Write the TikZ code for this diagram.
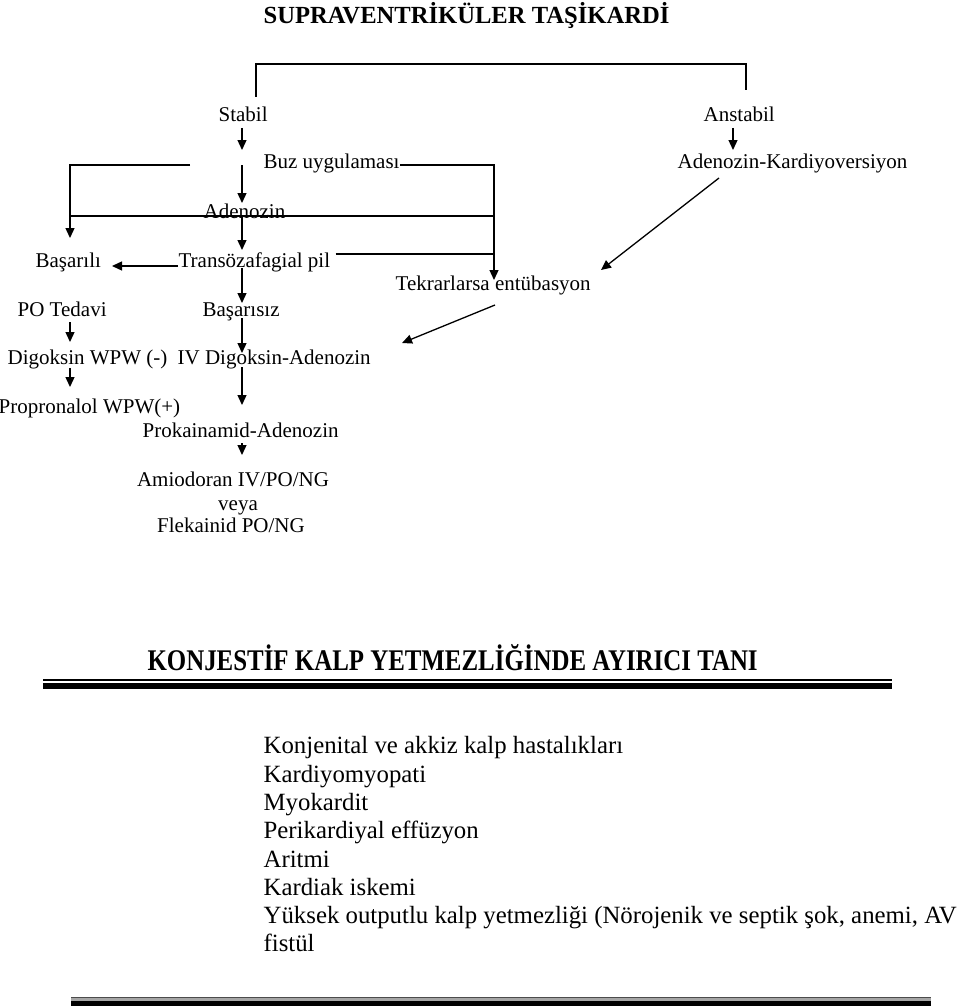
\documentclass[tikz,border=0pt]{standalone}
\usepackage{fontspec}
\setmainfont{Liberation Serif}
\usetikzlibrary{arrows.meta}
\newcommand{\kucuk}{\fontsize{10.5pt}{12pt}\selectfont}
\newcommand{\liste}{\fontsize{12.4pt}{14.15pt}\selectfont}

\begin{document}
\begin{tikzpicture}
    [x=0.5pt,y=-0.5pt,line width=0.65pt,
     yazi/.style={font=\kucuk,inner sep=0pt,anchor=base west},
     ok/.style={-{Triangle[length=5pt,width=4.5pt]}}]
\useasboundingbox (0,0) rectangle (960,1006);
%basliklar
\node[font=\fontsize{12.3pt}{14pt}\selectfont\bfseries,inner sep=0pt,anchor=base west] (baslik) at (263,24) {SUPRAVENTRİKÜLER TAŞİKARDİ};
\node[font=\fontsize{15pt}{17pt}\selectfont\bfseries,inner sep=0pt,anchor=base west,xscale=0.83] (konj) at (147,670) {KONJESTİF KALP YETMEZLİĞİNDE AYIRICI TANI};

%akis semasi yazilari
\node[yazi] (stabil) at (218,121) {Stabil};
\node[yazi] (anstabil) at (703,121) {Anstabil};
\node[yazi] (buz) at (263,169) {Buz uygulaması};
\node[yazi] (adkardio) at (677,169) {Adenozin-Kardiyoversiyon};
\node[yazi] (adenozin) at (203,218) {Adenozin};
\node[yazi] (basarili) at (35,267) {Başarılı};
\node[yazi] (transoz) at (178,267) {Transözafagial pil};
\node[yazi] (tekrar) at (395,290) {Tekrarlarsa entübasyon};
\node[yazi] (potedavi) at (17,316) {PO Tedavi};
\node[yazi] (basarisiz) at (202,316) {Başarısız};
\node[yazi] (digwpw) at (7,364) {Digoksin WPW (-)};
\node[yazi] (ivdig) at (177,364) {IV Digoksin-Adenozin};
\node[yazi] (propr) at (-2,413) {Propronalol WPW(+)};
\node[yazi] (prokain) at (142,437) {Prokainamid-Adenozin};
\node[yazi,anchor=base] (amio) at (233,486) {Amiodoran IV/PO/NG};
\node[yazi,anchor=base] (veya) at (238,510) {veya};
\node[yazi,anchor=base] (flek) at (231,532) {Flekainid PO/NG};

%baglanti noktalari
\coordinate (k0) at (256,97);
\coordinate (k2) at (746,64);
\coordinate (k3) at (746,90);
\coordinate (n1) at (733,128);
\coordinate (n2) at (733,150);
\coordinate (s1) at (242,128);
\coordinate (s2) at (242,150);
\coordinate (s3) at (242,165);
\coordinate (s4) at (242,203);
\coordinate (s5) at (242,216);
\coordinate (s6) at (242,250);
\coordinate (s7) at (242,268);
\coordinate (s8) at (242,303);
\coordinate (s9) at (242,318);
\coordinate (s10) at (242,353);
\coordinate (s11) at (242,367);
\coordinate (s12) at (242,405);
\coordinate (s13) at (242,443);
\coordinate (s14) at (242,455);
\coordinate (l1) at (190,165);
\coordinate (l2) at (70,238);
\coordinate (l3) at (70,322);
\coordinate (l4) at (70,342);
\coordinate (l5) at (70,368);
\coordinate (l6) at (70,387);
\coordinate (r1) at (494,280);
\coordinate (a1) at (70,216);
\coordinate (a2) at (494,216);
\coordinate (t1) at (494,254);
\coordinate (b1) at (112,266);
\coordinate (d1) at (719,178);
\coordinate (d2) at (601,270);
\coordinate (d3) at (495,305);
\coordinate (d4) at (402,343);

%cizgiler
\draw (k0) |- (k2) -- (k3);
\draw[ok] (n1) -- (n2);
\draw[ok] (s1) -- (s2);
\draw[ok] (s3) -- (s4);
\draw[ok] (s5) -- (s6);
\draw[ok] (s7) -- (s8);
\draw[ok] (s9) -- (s10);
\draw[ok] (s11) -- (s12);
\draw[ok] (s13) -- (s14);
\draw[ok] (l1) -| (l2);
\draw[ok] (l3) -- (l4);
\draw[ok] (l5) -- (l6);
\draw[ok] (buz.east |- l1) -| (r1);
\draw (a1) -- (a2);
\draw ([xshift=2.5pt]transoz.east |- t1) -- (t1);
\draw[ok] (transoz.west |- b1) -- (b1);
\draw[ok] (d1) -- (d2);
\draw[ok] (d3) -- (d4);

%liste
\node[font=\liste,inner sep=0pt,anchor=north west,align=left] (liste) at (263,736)
  {Konjenital ve akkiz kalp hastalıkları\\
   Kardiyomyopati\\
   Myokardit\\
   Perikardiyal effüzyon\\
   Aritmi\\
   Kardiak iskemi\\
   Yüksek outputlu kalp yetmezliği (Nörojenik ve septik şok, anemi, AV\\
   fistül};

%ayirici cizgiler
\draw[line width=0.75pt] (43,680) -- (892,680);
\fill (43,683) rectangle (892,688.5);
\fill[black!35] (71,997) rectangle (931,1006);
\draw[line width=0.7pt,black!70] (71,997.5) -- (931,997.5);
\fill (71,1001) rectangle (931,1006);
\end{tikzpicture}
\end{document}
